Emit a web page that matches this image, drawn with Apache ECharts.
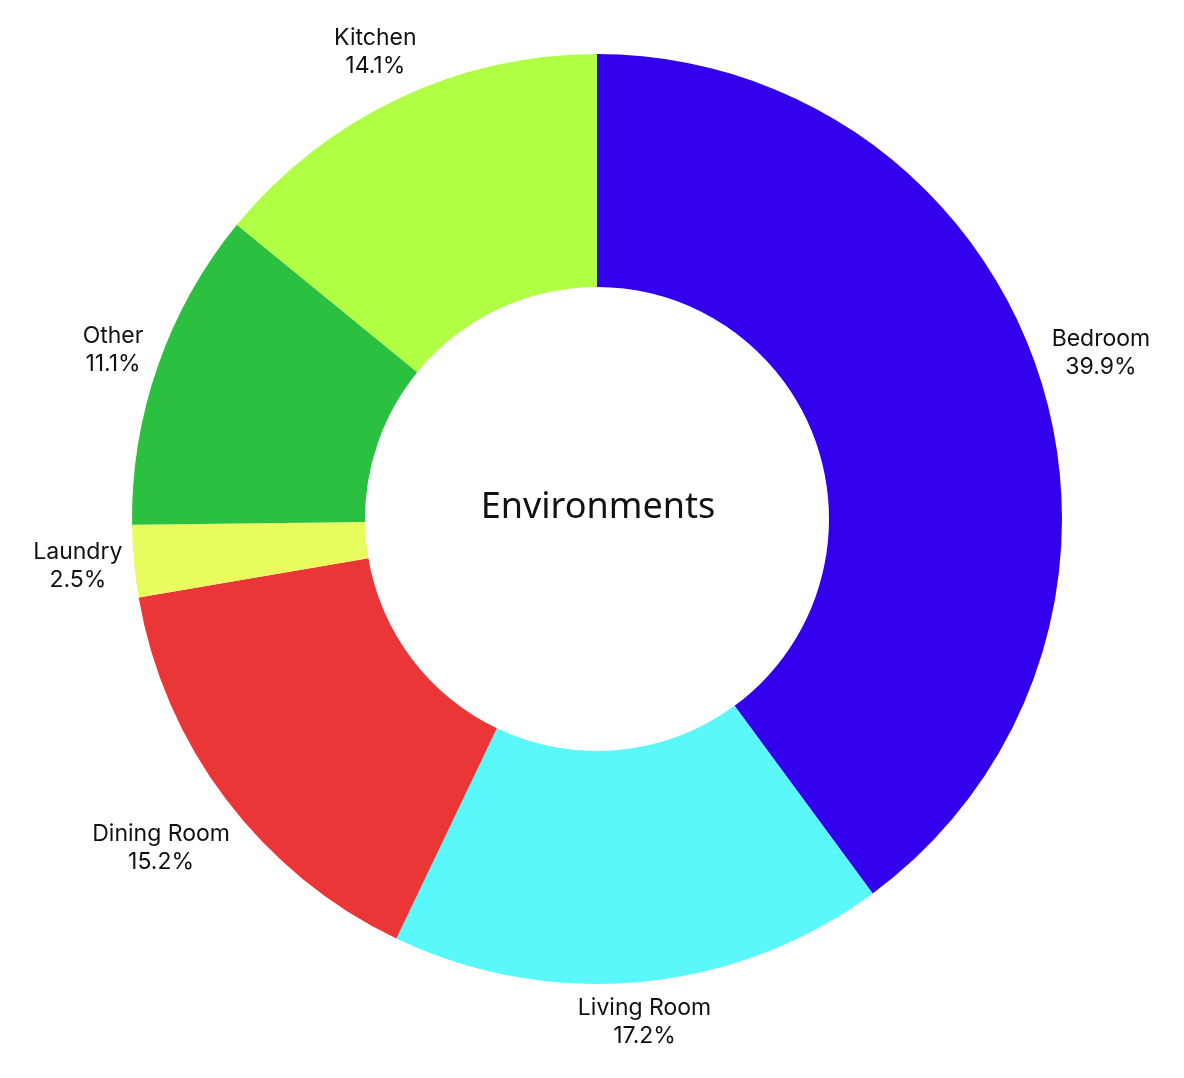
<!DOCTYPE html>
<html><head><meta charset="utf-8">
<script src="https://cdn.jsdelivr.net/npm/echarts@6/dist/echarts.min.js"></script>
<style>html,body{margin:0;padding:0;background:#fff}#c{width:1184px;height:1078px}</style>
</head><body><div id="c"></div>
<script>
const categories = ['Bedroom', 'Living Room', 'Dining Room', 'Laundry', 'Other', 'Kitchen'];
const values = [39.9, 17.2, 15.2, 2.5, 11.1, 14.1];
const colors = ['#3300EE', '#5AF7FB', '#EA3636', '#E9FC5E', '#2BC040', '#B0FF44'];
const centerTitle = 'Environments';

const CX = 597, CY = 519, R0 = 232, R1 = 465, GAP = 10;
const total = values.reduce((a, b) => a + b, 0);
const midAngles = [];
{ let acc = 0; values.forEach(v => { midAngles.push((acc + v / 2) / total * 2 * Math.PI); acc += v; }); }

function boxDist(t, ux, uy, hw, hh) {
  const cx = t * ux, cy = t * uy;
  const nx = Math.max(0, Math.abs(cx) - hw), ny = Math.max(0, Math.abs(cy) - hh);
  return Math.hypot(nx, ny);
}

const data = categories.map((n, i) => ({ name: n, value: values[i], itemStyle: { color: colors[i] } }));

const chart = echarts.init(document.getElementById('c'));
chart.setOption({
  animation: false,
  backgroundColor: '#fff',
  graphic: [{
    type: 'text', x: 598, y: 508,
    style: { text: centerTitle, fontFamily: 'Noto Sans', fontSize: 36, fill: '#111', align: 'center', verticalAlign: 'middle' }
  }],
  series: [
    {
      type: 'pie', center: [CX, CY], radius: [R0, R1], startAngle: 90, clockwise: true,
      silent: true,
      label: {
        show: true, position: 'inside', rotate: 0,
        formatter: p => p.name + '\n' + p.value.toFixed(1) + '%',
        fontFamily: 'Inter', fontSize: 23, lineHeight: 28, color: '#111', align: 'center', verticalAlign: 'middle'
      },
      labelLayout: function (p) {
        const a = midAngles[p.dataIndex];
        const ux = Math.sin(a), uy = -Math.cos(a);
        const hw = p.labelRect.width / 2, hh = p.labelRect.height / 2;
        let lo = 0, hi = 1000;
        for (let k = 0; k < 50; k++) {
          const m = (lo + hi) / 2;
          if (boxDist(m, ux, uy, hw, hh) < R1 + GAP) lo = m; else hi = m;
        }
        return { x: CX + lo * ux, y: CY + lo * uy, align: 'center', verticalAlign: 'middle' };
      },
      labelLine: { show: false },
      itemStyle: { borderWidth: 0 }, data: data
    }
  ]
});
</script></body></html>
